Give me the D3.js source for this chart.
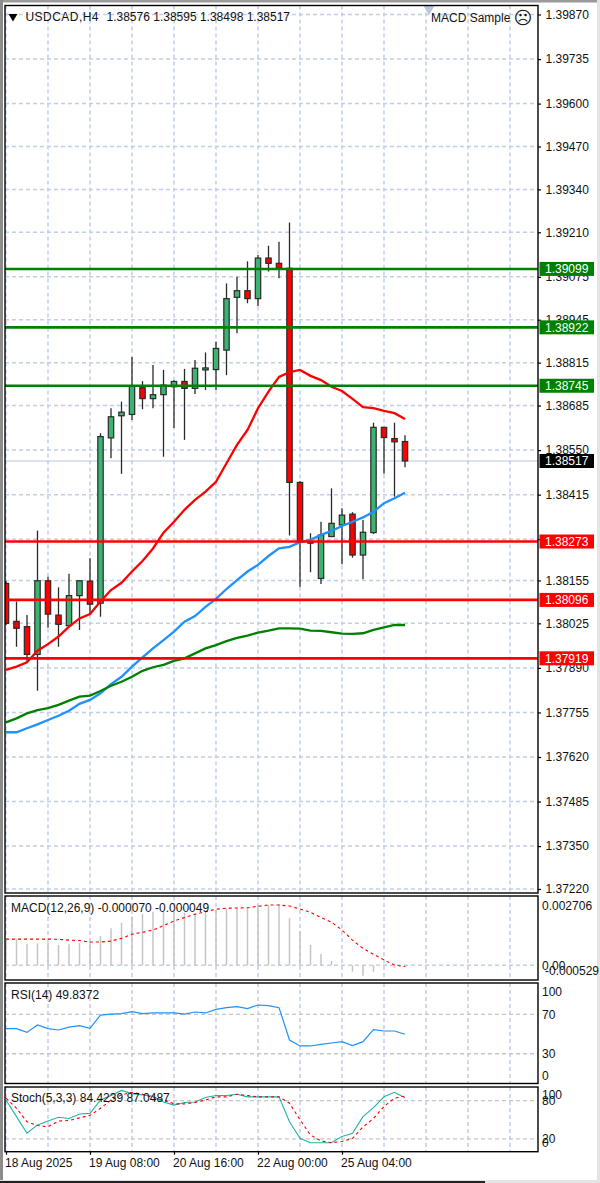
<!DOCTYPE html>
<html>
<head>
<meta charset="utf-8">
<script src="https://cdnjs.cloudflare.com/ajax/libs/d3/7.8.5/d3.min.js"></script>
<style>
    html, body { margin: 0; padding: 0; background: #fff; }
    svg { display: block; }
    text { font-family: "Liberation Sans", sans-serif; font-size: 12px; fill: #111; }
    .axis path { display: none; }
    .axis line { stroke: #000; stroke-width: 1.2; }
    .axis text { font-family: "Liberation Sans", sans-serif; font-size: 12px; fill: #111; }
    .grid { stroke: #c0d0e7; stroke-width: 1.5; stroke-dasharray: 4 3; fill: none; }
    .level { stroke: #c6c6c6; stroke-width: 1.3; stroke-dasharray: 4 3; }
    .frame { fill: none; stroke: #000; stroke-width: 1.4; }
</style>
</head>
<body>
<script>
// candles, oldest first
const opens = [1.38146,1.38031,1.38015,1.37931,1.38154,1.38050,1.38018,1.38109,1.38153,1.38086,1.38587,1.38654,1.38658,1.38739,1.38706,1.38718,1.38742,1.38758,1.38737,1.38793,1.38794,1.38853,1.39013,1.39033,1.39009,1.39132,1.39116,1.39101,1.38452,1.38272,1.38161,1.38288,1.38323,1.38356,1.38232,1.38300,1.38619,1.38585,1.38576];
const highs = [1.38153,1.38091,1.38050,1.38306,1.38166,1.38134,1.38175,1.38156,1.38222,1.38601,1.38677,1.38697,1.38832,1.38759,1.38808,1.38793,1.38762,1.38796,1.38823,1.38846,1.38878,1.39055,1.39075,1.39122,1.39141,1.39169,1.39181,1.39240,1.38456,1.38298,1.38333,1.38434,1.38374,1.38362,1.38338,1.38633,1.38619,1.38633,1.38595];
const lows = [1.38020,1.37954,1.37905,1.37821,1.38012,1.37954,1.38018,1.38005,1.38055,1.38045,1.38525,1.38478,1.38641,1.38674,1.38677,1.38530,1.38617,1.38581,1.38720,1.38732,1.38732,1.38777,1.38904,1.38995,1.38987,1.39091,1.39071,1.38291,1.38136,1.38180,1.38144,1.38288,1.38204,1.38224,1.38159,1.38296,1.38478,1.38409,1.38498];
const closes = [1.38025,1.38010,1.37931,1.38154,1.38053,1.38022,1.38109,1.38154,1.38083,1.38591,1.38651,1.38665,1.38743,1.38706,1.38718,1.38747,1.38758,1.38737,1.38798,1.38799,1.38858,1.39009,1.39033,1.39009,1.39132,1.39116,1.39101,1.38452,1.38272,1.38268,1.38293,1.38328,1.38353,1.38232,1.38301,1.38619,1.38588,1.38575,1.38517];

// moving averages
const maRed = [1.37884,1.37894,1.37907,1.37942,1.37962,1.37985,1.38015,1.38040,1.38053,1.38091,1.38126,1.38148,1.38182,1.38214,1.38252,1.38300,1.38333,1.38369,1.38399,1.38424,1.38454,1.38510,1.38566,1.38611,1.38677,1.38727,1.38772,1.38786,1.38793,1.38775,1.38762,1.38742,1.38729,1.38705,1.38680,1.38677,1.38669,1.38662,1.38644];
const maBlue = [1.37695,1.37695,1.37707,1.37719,1.37732,1.37745,1.37760,1.37781,1.37793,1.37813,1.37841,1.37863,1.37894,1.37922,1.37949,1.37974,1.38000,1.38030,1.38047,1.38075,1.38099,1.38129,1.38156,1.38182,1.38202,1.38229,1.38252,1.38257,1.38271,1.38278,1.38293,1.38305,1.38320,1.38333,1.38346,1.38363,1.38389,1.38404,1.38421];
const maGreen = [1.37725,1.37737,1.37752,1.37762,1.37768,1.37778,1.37791,1.37803,1.37806,1.37820,1.37836,1.37848,1.37863,1.37881,1.37892,1.37899,1.37911,1.37919,1.37934,1.37949,1.37959,1.37971,1.37981,1.37988,1.37997,1.38003,1.38010,1.38010,1.38009,1.38003,1.38002,1.37998,1.37994,1.37993,1.37995,1.38005,1.38013,1.38020,1.38020];

// horizontal levels
const greenLevels = [1.39099, 1.38922, 1.38745];
const redLevels = [1.38273, 1.38096, 1.37919];
const lastPrice = 1.38517;

const priceTicks = [1.39870,1.39735,1.39600,1.39470,1.39340,1.39210,1.39075,1.38945,1.38815,1.38685,1.38550,1.38415,1.38280,1.38155,1.38025,1.37890,1.37755,1.37620,1.37485,1.37350,1.37220];

// indicators
const macdHist = [0.00106,0.00106,0.00087,0.00090,0.00094,0.00083,0.00086,0.00090,0.00097,0.00120,0.00151,0.00174,0.00199,0.00210,0.00219,0.00222,0.00218,0.00215,0.00212,0.00219,0.00226,0.00233,0.00235,0.00235,0.00244,0.00246,0.00249,0.00192,0.00137,0.00083,0.00046,0.00018,0.00001,-0.00026,-0.00042,-0.00026,-0.00003,-0.00010,-0.00007];
const macdSignal = [0.00107,0.00107,0.00107,0.00107,0.00107,0.00106,0.00103,0.00101,0.00095,0.00095,0.00099,0.00110,0.00127,0.00135,0.00144,0.00162,0.00181,0.00195,0.00208,0.00219,0.00229,0.00233,0.00234,0.00235,0.00241,0.00246,0.00246,0.00242,0.00230,0.00216,0.00195,0.00176,0.00144,0.00103,0.00069,0.00045,0.00022,0.00001,-0.00005];
const rsiValues = [55.5,55.5,51.7,59.2,55.5,54.1,57.1,58.5,55.8,69.3,70.3,70.7,72.7,70.7,71.4,71.4,71.4,70.3,72.4,71.4,75.1,76.8,77.8,75.8,79.5,78.8,76.8,43.9,37.9,37.9,39.5,40.9,42.3,38.2,42.3,54.4,53.1,53.1,49.84];
const stochMain = [81,55,29,42,48,54,52,59,60,81,88,96,91,89,87,78,73,77,78,85,88,88,90,86,86,86,86,47,21,14,14,14,24,29,55,69,86,93,84.42];
const stochSignal = [84,68,47,41,39,48,49,53,57,68,81,89,93,90,85,81,75,75,77,81,86,86,90,88,86,86,86,76,50,26,17,14,16,21,39,52,71,84,87.05];

// time axis
const timeIndex = [0, 8, 16, 24, 32];
const timeLabels = ["18 Aug 2025", "19 Aug 08:00", "20 Aug 16:00", "22 Aug 00:00", "25 Aug 04:00"];

const width = 600;
const height = 1183;
const left = 5;
const right = 538;

const svg = d3.select("body").append("svg")
    .attr("width", width)
    .attr("height", height);

// window chrome
svg.append("rect").attr("x", 0).attr("y", 0).attr("width", width).attr("height", 2.5).attr("fill", "#9a9a9a");
svg.append("rect").attr("x", 0).attr("y", 0).attr("width", 3).attr("height", height).attr("fill", "#8c8c8c");
svg.append("rect").attr("x", 597).attr("y", 0).attr("width", 3).attr("height", height).attr("fill", "#e4e4e4");
svg.append("rect").attr("x", 0).attr("y", 1180).attr("width", width).attr("height", 3).attr("fill", "#e4e4e4");
svg.append("rect").attr("x", 0).attr("y", 1181).attr("width", 485).attr("height", 2).attr("fill", "#222");

const x = d3.scaleLinear().domain([0, 1]).range([6, 16.5]);
const y = d3.scaleLinear().domain([1.37220, 1.39870]).range([889, 14.5]);
const yMacd = d3.scaleLinear().domain([-0.000529, 0.002706]).range([978.3, 899]);
const yRsi = d3.scaleLinear().domain([0, 100]).range([1083.3, 984.8]);
const yStoch = d3.scaleLinear().domain([0, 100]).range([1151.7, 1087.9]);

const panels = [
    { id: "main", top: 5.5, bottom: 893 },
    { id: "macd", top: 896, bottom: 980 },
    { id: "rsi", top: 983, bottom: 1083.5 },
    { id: "stoch", top: 1087, bottom: 1151.7 }
];

const defs = svg.append("defs");
panels.forEach(function (p) {
    defs.append("clipPath").attr("id", "clip-" + p.id)
        .append("rect")
        .attr("x", left).attr("y", p.top)
        .attr("width", right - left).attr("height", p.bottom - p.top);
});

// vertical grid every 4 bars, all panels
const gridIndex = d3.range(0, 49, 4);
panels.forEach(function (p) {
    svg.append("g").selectAll("line")
        .data(gridIndex)
        .enter().append("line")
        .attr("class", "grid")
        .attr("x1", d => x(d)).attr("x2", d => x(d))
        .attr("y1", p.top).attr("y2", p.bottom);
});

// main chart
const main = svg.append("g").attr("clip-path", "url(#clip-main)");

main.selectAll(".hgrid")
    .data(priceTicks)
    .enter().append("line")
    .attr("class", "grid")
    .attr("x1", left).attr("x2", right)
    .attr("y1", d => y(d)).attr("y2", d => y(d));

// last price line
main.append("line")
    .attr("x1", left).attr("x2", right)
    .attr("y1", y(lastPrice)).attr("y2", y(lastPrice))
    .attr("stroke", "#b9c8de").attr("stroke-width", 1.2);

// candles
const bars = main.selectAll(".candle")
    .data(opens.map((o, i) => ({ i: i, o: o, h: highs[i], l: lows[i], c: closes[i] })))
    .enter().append("g")
    .attr("class", "candle");

bars.append("line")
    .attr("x1", d => x(d.i)).attr("x2", d => x(d.i))
    .attr("y1", d => y(d.h)).attr("y2", d => y(d.l))
    .attr("stroke", "#2a2a2a").attr("stroke-width", 1.3);

bars.append("rect")
    .attr("x", d => x(d.i) - 2.7)
    .attr("width", 5.4)
    .attr("y", d => y(Math.max(d.o, d.c)))
    .attr("height", d => Math.max(1, Math.abs(y(d.o) - y(d.c))))
    .attr("fill", d => d.c >= d.o ? "#3cb371" : "#ff0000")
    .attr("stroke", "#2a2a2a").attr("stroke-width", 1.2);

// moving averages
const maLine = d3.line().x((d, i) => x(i)).y(d => y(d));
[[maRed, "#ff0000"], [maBlue, "#1e90ff"], [maGreen, "#008000"]].forEach(function (m) {
    main.append("path")
        .attr("d", maLine(m[0]))
        .attr("fill", "none")
        .attr("stroke", m[1])
        .attr("stroke-width", 2.3);
});

// level lines
[[greenLevels, "#008000"], [redLevels, "#ff0000"]].forEach(function (s) {
    main.append("g").selectAll("line")
        .data(s[0])
        .enter().append("line")
        .attr("x1", left).attr("x2", right)
        .attr("y1", d => y(d)).attr("y2", d => y(d))
        .attr("stroke", s[1])
        .attr("stroke-width", 2.6);
});

// price axis
svg.append("g")
    .attr("class", "axis")
    .attr("transform", "translate(" + right + ",0)")
    .call(d3.axisRight(y).tickValues(priceTicks).tickSize(3).tickPadding(4.5).tickFormat(d3.format(".5f")));

// price badges
function badge(value, color) {
    svg.append("rect")
        .attr("x", 539.5).attr("y", y(value) - 7)
        .attr("width", 54.5).attr("height", 14)
        .attr("fill", color);
    svg.append("text")
        .attr("x", 545).attr("y", y(value))
        .attr("dy", "0.35em")
        .style("fill", "#fff")
        .text(d3.format(".5f")(value));
}
greenLevels.forEach(d => badge(d, "#008000"));
redLevels.forEach(d => badge(d, "#ff0000"));
badge(lastPrice, "#000");

// header
svg.append("path")
    .attr("d", d3.symbol().type(d3.symbolTriangle).size(34)())
    .attr("transform", "translate(13,16.5) rotate(180)")
    .attr("fill", "#000");
svg.append("text").attr("x", 25.5).attr("y", 17).attr("dy", "0.35em")
    .attr("textLength", 73)
    .text("USDCAD,H4");
svg.append("text").attr("x", 106.5).attr("y", 17).attr("dy", "0.35em")
    .text("1.38576 1.38595 1.38498 1.38517");

// shift marker and expert label
svg.append("path")
    .attr("d", d3.symbol().type(d3.symbolTriangle).size(50)())
    .attr("transform", "translate(429,9) rotate(180)")
    .attr("fill", "#b7c7df");
svg.append("text").attr("x", 431).attr("y", 18).attr("dy", "0.35em").text("MACD Sample");
svg.append("text").attr("x", 523).attr("y", 18).attr("dy", "0.35em")
    .attr("text-anchor", "middle")
    .style("font-family", "DejaVu Sans").style("font-size", "18px")
    .text("\u2639");

// MACD
const macd = svg.append("g").attr("clip-path", "url(#clip-macd)");
macd.append("line").attr("class", "grid")
    .attr("x1", left).attr("x2", right)
    .attr("y1", yMacd(0)).attr("y2", yMacd(0));
macd.selectAll(".hist")
    .data(macdHist)
    .enter().append("line")
    .attr("x1", (d, i) => x(i)).attr("x2", (d, i) => x(i))
    .attr("y1", yMacd(0)).attr("y2", d => yMacd(d))
    .attr("stroke", "#c4c4c4").attr("stroke-width", 1.5);
macd.append("path")
    .attr("d", d3.line().x((d, i) => x(i)).y(d => yMacd(d))(macdSignal))
    .attr("fill", "none").attr("stroke", "#ff0000").attr("stroke-width", 1.1).attr("stroke-dasharray", "3 3");

// RSI
const rsi = svg.append("g").attr("clip-path", "url(#clip-rsi)");
rsi.selectAll(".level")
    .data([70, 30])
    .enter().append("line").attr("class", "level")
    .attr("x1", left).attr("x2", right)
    .attr("y1", d => yRsi(d)).attr("y2", d => yRsi(d));
rsi.append("path")
    .attr("d", d3.line().x((d, i) => x(i)).y(d => yRsi(d))(rsiValues))
    .attr("fill", "none").attr("stroke", "#1e90ff").attr("stroke-width", 1.2);

// Stochastic
const stoch = svg.append("g").attr("clip-path", "url(#clip-stoch)");
stoch.selectAll(".level")
    .data([80, 20])
    .enter().append("line").attr("class", "level")
    .attr("x1", left).attr("x2", right)
    .attr("y1", d => yStoch(d)).attr("y2", d => yStoch(d));
stoch.append("path")
    .attr("d", d3.line().x((d, i) => x(i)).y(d => yStoch(d))(stochMain))
    .attr("fill", "none").attr("stroke", "#20b2aa").attr("stroke-width", 1.1);
stoch.append("path")
    .attr("d", d3.line().x((d, i) => x(i)).y(d => yStoch(d))(stochSignal))
    .attr("fill", "none").attr("stroke", "#ff0000").attr("stroke-width", 1.1).attr("stroke-dasharray", "3 3");

// frames
panels.forEach(function (p) {
    svg.append("rect").attr("class", "frame")
        .attr("x", left).attr("y", p.top)
        .attr("width", right - left).attr("height", p.bottom - p.top);
});

// indicator titles
[["MACD(12,26,9) -0.000070 -0.000049", 908], ["RSI(14) 49.8372", 995], ["Stoch(5,3,3) 84.4239 87.0487", 1098]].forEach(function (t) {
    svg.append("text").attr("x", 11).attr("y", t[1]).attr("dy", "0.35em").text(t[0]);
});

// indicator scale labels
const sideLabels = [
    ["0.002706", yMacd(0.002706) + 6.7],
    ["0.00", yMacd(0)],
    ["-0.000529", yMacd(-0.000529) - 7.3],
    ["100", yRsi(100) + 7],
    ["70", yRsi(70)],
    ["30", yRsi(30)],
    ["0", yRsi(0) - 8],
    ["100", yStoch(100) + 7],
    ["80", yStoch(80)],
    ["20", yStoch(20)],
    ["0", yStoch(0) - 8.5]
];
svg.append("g").selectAll("text")
    .data(sideLabels)
    .enter().append("text")
    .attr("x", d => d[0] === "-0.000529" ? 545 : 542)
    .attr("y", d => d[1])
    .attr("dy", "0.35em")
    .text(d => d[0]);

// time axis
const timeAxis = svg.append("g")
    .attr("class", "axis")
    .attr("transform", "translate(0,1151.7)")
    .call(d3.axisBottom(x).tickValues(timeIndex).tickSize(3).tickPadding(4).tickFormat((d, i) => timeLabels[i]));
timeAxis.selectAll("text").attr("text-anchor", "start").attr("x", -1.5);
</script>
</body>
</html>
